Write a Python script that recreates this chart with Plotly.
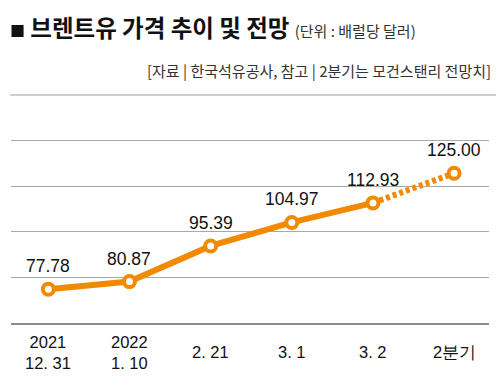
import plotly.graph_objects as go

categories = ["2021<br>12. 31", "2022<br>1. 10", "2. 21", "3. 1", "3. 2", "2분기"]
values = [77.78, 80.87, 95.39, 104.97, 112.93, 125.00]
value_labels = ["77.78", "80.87", "95.39", "104.97", "112.93", "125.00"]
n_actual = 5  # last point is forecast

ORANGE = "#F18A00"
NUM_FONT = "Liberation Sans, Arial, sans-serif"
KR_FONT = "Noto Sans CJK KR, sans-serif"

idx = list(range(len(categories)))

fig = go.Figure()
fig.add_trace(go.Scatter(x=idx[:n_actual], y=values[:n_actual], mode="lines",
                         line=dict(color=ORANGE, width=6), hoverinfo="skip"))
fig.add_trace(go.Scatter(x=idx[n_actual - 1:], y=values[n_actual - 1:], mode="lines",
                         line=dict(color=ORANGE, width=6, dash="4px,3px"), hoverinfo="skip"))
fig.add_trace(go.Scatter(x=idx, y=values, mode="markers",
                         marker=dict(symbol="circle", size=11, color="white",
                                     line=dict(color=ORANGE, width=4))))

for i, (v, t) in enumerate(zip(values, value_labels)):
    fig.add_annotation(x=i, y=v, text=t, showarrow=False, yshift=23,
                       font=dict(family=NUM_FONT, size=17.5, color="#111"))

H = 203.0
def py(p):
    return (323 - p) / H

# category labels, vertically centred under the axis
for i, c in enumerate(categories):
    fig.add_annotation(x=i, y=py(352), yref="paper", text=c, showarrow=False,
                       yanchor="middle", align="center",
                       font=dict(family=NUM_FONT, size=16.5, color="#111"))

fig.add_annotation(xref="paper", yref="paper", x=-0.006, y=py(27), xanchor="left", yanchor="middle",
                   showarrow=False,
                   text="<span style='font-size:15px'>■</span> <b>브렌트유 가격 추이 및 전망</b> <span style='font-size:15px;color:#333'>(단위 : 배럴당 달러)</span>",
                   font=dict(family=KR_FONT, size=23.5, color="#111"))
fig.add_annotation(xref="paper", yref="paper", x=(493 - 11) / 478, y=py(70), xanchor="right", yanchor="middle",
                   showarrow=False,
                   text="[자료 | 한국석유공사, 참고 | 2분기는 모건스탠리 전망치]",
                   font=dict(family=KR_FONT, size=15, color="#333"))
fig.add_shape(type="line", xref="paper", yref="paper", x0=-0.002, x1=(496 - 11) / 478,
              y0=py(95), y1=py(95), line=dict(color="#cfcfcf", width=2))

fig.update_layout(
    width=500, height=386,
    margin=dict(l=11, r=11, t=120, b=63),
    paper_bgcolor="white", plot_bgcolor="white",
    showlegend=False,
    xaxis=dict(range=[-0.46, 5.43], tickvals=idx, showticklabels=False,
               showgrid=False, zeroline=False, showline=True, linecolor="#8c8c8c", linewidth=1.5,
               ticks=""),
    yaxis=dict(range=[64, 146.7], tick0=64, dtick=18.6, showticklabels=False,
               showgrid=True, gridcolor="#a8a8a8", gridwidth=1.2, zeroline=False, ticks=""),
)

fig.write_html("out.html", config={"displayModeBar": False},
               post_script="document.body.style.margin='0';document.body.style.overflow='hidden';")
